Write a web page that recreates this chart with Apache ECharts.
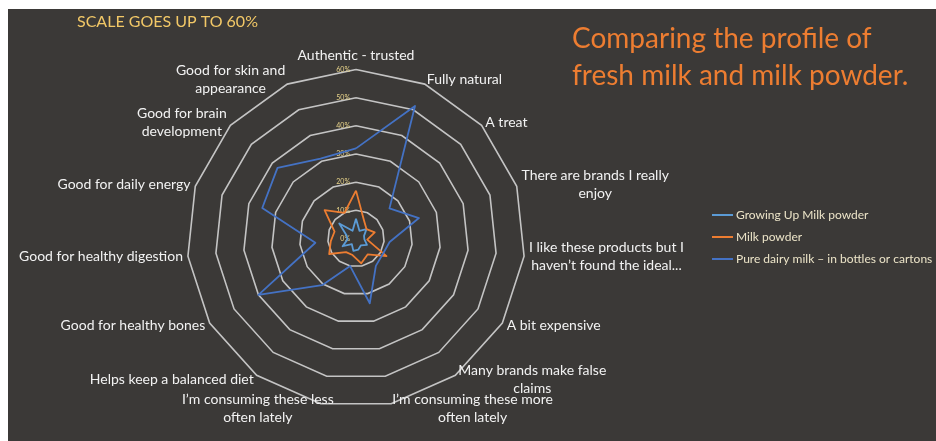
<!DOCTYPE html>
<html>
<head>
<meta charset="utf-8">
<script src="https://cdn.jsdelivr.net/npm/echarts@6/dist/echarts.min.js"></script>
<style>
  html, body { margin: 0; padding: 0; background: #ffffff; width: 936px; height: 441px; overflow: hidden; }
  #chart { position: absolute; left: 8px; top: 9px; width: 928px; height: 432px; background: #3b3937; }
</style>
</head>
<body>
<div id="chart"></div>
<script>
// Attributes, listed clockwise starting at the top
const attributes = [
  'Authentic - trusted',
  'Fully natural',
  'A treat',
  'There are brands I really\nenjoy',
  'I like these products but I\nhaven\u2019t found the ideal...',
  'A bit expensive',
  'Many brands make false\nclaims',
  'I\u2019m consuming these more\noften lately',
  'I\u2019m consuming these less\noften lately',
  'Helps keep a balanced diet',
  'Good for healthy bones',
  'Good for healthy digestion',
  'Good for daily energy',
  'Good for brain\ndevelopment',
  'Good for skin and\nappearance'
];

const seriesNames = [
  'Growing Up Milk powder',
  'Milk powder',
  'Pure dairy milk \u2013 in bottles or cartons'
];

// Share of respondents (%) per attribute, same order as attributes
const growingUpMilkPowder = [7, 3, 5, 3, 3, 4.5, 3, 4, 4.5, 2.5, 5.5, 3, 3.5, 8, 3];
const milkPowder          = [17, 7, 5, 7, 4, 12.5, 7, 9, 6, 6, 11, 9, 8, 15, 10];
const pureDairyMilk       = [32, 51.5, 16, 23.5, 12, 11, 12, 23.5, 10, 20.5, 40, 14.5, 35, 37.5, 31];

const scaleMax = 60;
const scaleStep = 10;

// ECharts lays radar indicators out counter-clockwise; reorder so they run clockwise
const n = attributes.length;
const order = attributes.map((_, i) => (n - i) % n);
const pick = arr => order.map(i => arr[i]);

// The "less often" label sits on its own radar layer so it can be nudged
const shiftedIdx = 8;

const textColor = '#f2f2f2';
const font = 'Lato, "Noto Sans", sans-serif';
const nameSize = 14;

const nameFormatter = name => name.split('\n').map(l => '{c|' + l + '}').join('\n');
const nameRich = { c: { align: 'center', color: textColor, fontSize: nameSize, fontFamily: font, lineHeight: 18 } };

const indicatorsMain = order.map((i, k) => {
  const ind = { name: i === shiftedIdx ? '' : attributes[i], min: 0, max: scaleMax };
  if (k === 0) {
    ind.axisLabel = { show: true };
  }
  return ind;
});
const indicatorsShifted = order.map(i => ({ name: i === shiftedIdx ? attributes[i] : '', min: 0, max: scaleMax }));

const radarBase = {
  center: [348, 229.5],
  radius: 169,
  startAngle: 90,
  splitNumber: scaleMax / scaleStep,
  shape: 'polygon',
  nameGap: 5
};

const chart = echarts.init(document.getElementById('chart'), null, { renderer: 'canvas' });

chart.setOption({
  backgroundColor: 'transparent',
  animation: false,
  textStyle: { fontFamily: font },
  title: [
    {
      text: 'SCALE GOES UP TO 60%',
      left: 69, top: 5, padding: 0,
      textStyle: { color: '#f2c867', fontSize: 16, fontWeight: 'normal', fontFamily: font }
    },
    {
      text: 'Comparing the profile of\nfresh milk and milk powder.',
      left: 564, top: 11, padding: 0,
      textStyle: { color: '#ed7d31', fontSize: 28, lineHeight: 37, fontWeight: 'normal', fontFamily: font }
    }
  ],
  legend: {
    orient: 'vertical',
    left: 704,
    top: 199,
    padding: 0,
    itemGap: 8,
    itemWidth: 21,
    itemHeight: 2,
    icon: 'rect',
    data: seriesNames,
    textStyle: { color: '#ece4c8', fontSize: 12, fontFamily: font, lineHeight: 14, padding: [0, 0, 0, -2] }
  },
  radar: [
    Object.assign({}, radarBase, {
      indicator: indicatorsMain,
      axisName: {
        color: textColor, fontSize: nameSize, fontFamily: font,
        formatter: nameFormatter, rich: nameRich
      },
      axisLine: { show: false },
      axisTick: { show: false },
      axisLabel: {
        show: false,
        color: '#e8d48a', fontSize: 7, fontFamily: font, margin: 6,
        formatter: v => v + '%'
      },
      splitLine: { lineStyle: { color: '#c4c4c4', width: 1.6 } },
      splitArea: { show: false }
    }),
    Object.assign({}, radarBase, {
      indicator: indicatorsShifted,
      axisName: {
        color: textColor, fontSize: nameSize, fontFamily: font,
        align: 'center', padding: [0, 124, 0, 0],
        formatter: nameFormatter, rich: nameRich
      },
      axisLine: { show: false },
      axisTick: { show: false },
      axisLabel: { show: false },
      splitLine: { show: false },
      splitArea: { show: false }
    })
  ],
  series: [
    {
      type: 'radar',
      radarIndex: 0,
      symbol: 'none',
      data: [
        { name: seriesNames[0], value: pick(growingUpMilkPowder),
          lineStyle: { color: '#5b9bd5', width: 1.8 }, itemStyle: { color: '#5b9bd5' } },
        { name: seriesNames[1], value: pick(milkPowder),
          lineStyle: { color: '#ed7d31', width: 1.8 }, itemStyle: { color: '#ed7d31' } },
        { name: seriesNames[2], value: pick(pureDairyMilk),
          lineStyle: { color: '#4472c4', width: 1.8 }, itemStyle: { color: '#4472c4' } }
      ]
    }
  ]
});
</script>
</body>
</html>
